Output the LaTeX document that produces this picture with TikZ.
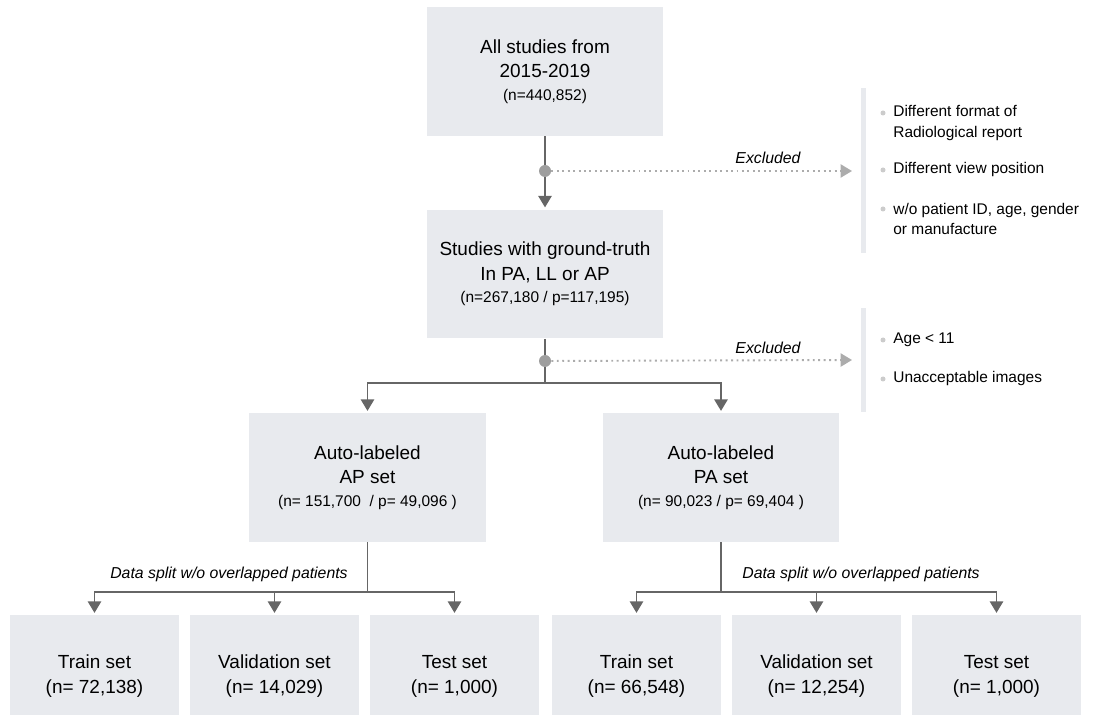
\documentclass[tikz,border=0pt]{standalone}
\usepackage{fontspec}
\setmainfont{Liberation Sans}
\usetikzlibrary{arrows.meta}

\definecolor{boxgray}{RGB}{232,234,238}
\definecolor{linegray}{RGB}{102,102,102}
\definecolor{dotgray}{RGB}{158,158,158}
\definecolor{exgray}{RGB}{172,172,172}
\definecolor{bulletgray}{RGB}{204,204,204}

\newcommand{\cnt}[1]{{\fontsize{8.8}{11}\selectfont #1}}

\tikzset{
    stage/.style={fill=boxgray, minimum width=4.74cm, minimum height=2.58cm, inner sep=0pt,
        align=center, font=\fontsize{10.8}{13.8}\selectfont,
        execute at begin node=\rule{0pt}{13.5pt}},
    subset/.style={fill=boxgray, minimum width=3.38cm, minimum height=2.44cm, inner sep=0pt,
        align=center, font=\fontsize{10.8}{14.2}\selectfont,
        execute at begin node=\rule{0pt}{11pt}},
    link/.style={draw=linegray, line width=1.1pt},
    flow/.style={link, -{Triangle[width=7.5pt,length=6.5pt]}, shorten >=1pt},
    exflow/.style={draw=exgray, line width=1.1pt, dotted, -{Triangle[width=7.5pt,length=6.5pt]}},
    cut/.style={circle, fill=dotgray, minimum size=0.24cm, inner sep=0pt},
    note/.style={font=\fontsize{9}{11}\selectfont\itshape, inner sep=0pt},
    exitem/.style={anchor=west, align=left, inner sep=0pt, font=\fontsize{8.8}{11.4}\selectfont},
    bullet/.style={circle, fill=bulletgray, minimum size=0.1cm, inner sep=0pt}
}

\begin{document}
\begin{tikzpicture}[x=0.02cm, y=-0.02cm]

        \path[use as bounding box, clip] (0,0) rectangle (1095,715);

        %Stages
        \node[stage] (all) at (545,71.5) {All studies from\\2015-2019\\[-1pt]\cnt{(n=440,852)}};
        \node[stage] (gt) at (545,274) {Studies with ground-truth\\In PA, LL or AP\\[-1pt]\cnt{(n=267,180 / p=117,195)}};
        \node[stage] (ap) at (367.5,477.5) {Auto-labeled\\AP set\\[-1pt]\cnt{(n= 151,700 \ / p= 49,096 )}};
        \node[stage] (pa) at (721,477.5) {Auto-labeled\\PA set\\[-1pt]\cnt{(n= 90,023 / p= 69,404 )}};

        %Splits
        \node[subset] (aptrain) at (94.5,676) {Train set\\(n= 72,138)};
        \node[subset] (apval) at (274.5,676) {Validation set\\(n= 14,029)};
        \node[subset] (aptest) at (454.5,676) {Test set\\(n= 1,000)};
        \node[subset] (patrain) at (636.5,676) {Train set\\(n= 66,548)};
        \node[subset] (paval) at (816.5,676) {Validation set\\(n= 12,254)};
        \node[subset] (patest) at (996.5,676) {Test set\\(n= 1,000)};

        \coordinate (branch) at (545,383);
        \coordinate (apsplit) at (367.5,592);
        \coordinate (pasplit) at (721,592);
        \coordinate (exone) at (852,171);
        \coordinate (extwo) at (852,360);

        \draw[flow] (all) -- (gt);
        \draw[link] (gt) -- (branch);
        \draw[flow] (branch) -| (ap);
        \draw[flow] (branch) -| (pa);

        \draw[link] (ap) -- (apsplit);
        \draw[flow] (apsplit) -| (aptrain);
        \draw[flow] (apsplit) -| (apval);
        \draw[flow] (apsplit) -| (aptest);
        \draw[link] (pa) -- (pasplit);
        \draw[flow] (pasplit) -| (patrain);
        \draw[flow] (pasplit) -| (paval);
        \draw[flow] (pasplit) -| (patest);

        \node[note, anchor=east] (apnote) at (348,574) {Data split w/o overlapped patients};
        \node[note, anchor=west] (panote) at (742,574) {Data split w/o overlapped patients};

        %Exclusions
        \node[cut] (cutone) at (545,171) {};
        \node[cut] (cuttwo) at (545,361) {};
        \draw[exflow] (cutone) -- (exone);
        \draw[exflow] (cuttwo) -- (extwo);
        \node[note] (exlabelone) at (768,158) {Excluded};
        \node[note] (exlabeltwo) at (768,348) {Excluded};

        \fill[boxgray] (861,88) rectangle (866,253);
        \fill[boxgray] (861,308) rectangle (866,412);

        \node[bullet] (bone) at (883,113) {};
        \node[bullet] (btwo) at (883,170) {};
        \node[bullet] (bthree) at (883,209) {};
        \node[bullet] (bfour) at (883,340) {};
        \node[bullet] (bfive) at (883,379) {};
        \node[exitem] (itemone) at (893,123) {Different format of\\Radiological report};
        \node[exitem] (itemtwo) at (893,170) {Different view position};
        \node[exitem] (itemthree) at (893,219) {w/o patient ID, age, gender\\or manufacture};
        \node[exitem] (itemfour) at (893,340) {Age < 11};
        \node[exitem] (itemfive) at (893,379) {Unacceptable images};

    \end{tikzpicture}
\end{document}
